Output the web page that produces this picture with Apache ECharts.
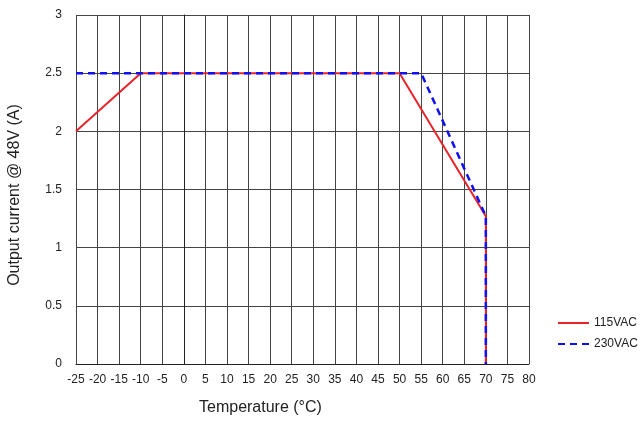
<!DOCTYPE html>
<html><head><meta charset="utf-8">
<script src="https://cdn.jsdelivr.net/npm/echarts@6/dist/echarts.min.js"></script>
<style>html,body{margin:0;padding:0;background:#fff}#c{width:643px;height:424px}</style>
</head><body><div id="c"></div>
<script>
var temps115 = [-25, -10, 50, 70, 70];
var amps115 = [2, 2.5, 2.5, 1.27, 0];
var temps230 = [-25, 55, 70, 70];
var amps230 = [2.5, 2.5, 1.27, 0];
var seriesNames = ['115VAC', '230VAC'];
var xTitle = 'Temperature (°C)';
var yTitle = 'Output current @ 48V (A)';

function pairs(xs, ys){ return xs.map(function(x,i){ return [x, ys[i]]; }); }
var font = 'Liberation Sans, Arial, sans-serif';
var chart = echarts.init(document.getElementById('c'));
chart.setOption({
  animation: false,
  grid: {left: 76, right: 114, top: 15, bottom: 60},
  xAxis: {type: 'value', min: -25, max: 80, interval: 5,
    axisLine: {show: true, lineStyle: {color: '#222', width: 1}},
    axisTick: {show: false},
    axisLabel: {color: '#222', fontSize: 12, fontFamily: font, margin: 10},
    splitLine: {show: true, lineStyle: {color: '#444', width: 1}}},
  yAxis: {type: 'value', min: 0, max: 3, interval: 0.5,
    axisLine: {show: true, lineStyle: {color: '#222', width: 1}},
    axisTick: {show: false},
    axisLabel: {color: '#222', fontSize: 12, fontFamily: font, margin: 14},
    splitLine: {show: true, lineStyle: {color: '#444', width: 1}}},
  legend: {orient: 'vertical', left: 552, top: 312, itemWidth: 31, itemHeight: 14, itemGap: 9,
    itemStyle: {opacity: 0},
    textStyle: {color: '#222', fontSize: 12, fontFamily: font},
    data: seriesNames},
  graphic: [
    {type: 'text', left: 199, top: 400, style: {text: xTitle, fill: '#222', font: '16px ' + font}},
    {type: 'text', x: 7, y: 195, rotation: Math.PI/2, style: {text: yTitle, fill: '#222', font: '16px ' + font, align: 'center', verticalAlign: 'top'}}
  ],
  series: [
    {name: seriesNames[0], type: 'line', symbol: 'none', data: pairs(temps115, amps115),
      lineStyle: {color: '#e8242b', width: 2}, itemStyle: {color: '#e8242b'}},
    {name: seriesNames[1], type: 'line', symbol: 'none', data: pairs(temps230, amps230),
      lineStyle: {color: '#1010f0', width: 2.5, type: [7, 5]}, itemStyle: {color: '#1010f0'}}
  ]
});
</script></body></html>
